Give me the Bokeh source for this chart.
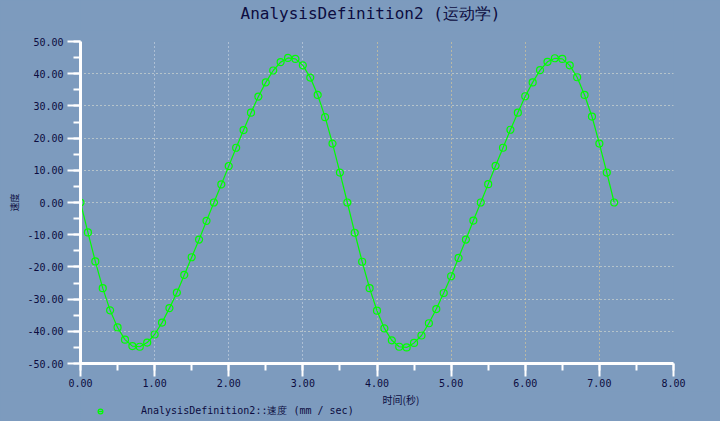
from bokeh.plotting import figure
from bokeh.layouts import column
from bokeh.models import (Range1d, Legend, LegendItem, Grid, FixedTicker, Label,
                          SingleIntervalTicker, NumeralTickFormatter)
from bokeh.embed import file_html
from bokeh.resources import INLINE

# ---- data ----
time_s = [0.0, 0.1, 0.2, 0.3, 0.4, 0.5, 0.6, 0.7, 0.8, 0.9,
          1.0, 1.1, 1.2, 1.3, 1.4, 1.5, 1.6, 1.7, 1.8, 1.9,
          2.0, 2.1, 2.2, 2.3, 2.4, 2.5, 2.6, 2.7, 2.8, 2.9,
          3.0, 3.1, 3.2, 3.3, 3.4, 3.5, 3.6, 3.7, 3.8, 3.9,
          4.0, 4.1, 4.2, 4.3, 4.4, 4.5, 4.6, 4.7, 4.8, 4.9,
          5.0, 5.1, 5.2, 5.3, 5.4, 5.5, 5.6, 5.7, 5.8, 5.9,
          6.0, 6.1, 6.2, 6.3, 6.4, 6.5, 6.6, 6.7, 6.8, 6.9,
          7.0, 7.1, 7.2]
velocity = [0.0, -9.3, -18.3, -26.6, -33.5, -38.8, -42.6, -44.6, -44.8, -43.5,
            -41.0, -37.3, -32.8, -28.0, -22.5, -17.0, -11.5, -5.7, 0.0, 5.6,
            11.3, 17.0, 22.5, 27.9, 32.9, 37.3, 41.0, 43.6, 44.9, 44.6,
            42.6, 38.8, 33.4, 26.5, 18.3, 9.3, 0.0, -9.4, -18.4, -26.6,
            -33.6, -39.1, -42.8, -44.8, -45.0, -43.6, -41.3, -37.5, -33.1, -28.1,
            -22.9, -17.2, -11.5, -5.6, 0.0, 5.7, 11.4, 17.0, 22.6, 27.9,
            33.0, 37.3, 41.1, 43.7, 44.8, 44.6, 42.6, 38.9, 33.4, 26.7,
            18.3, 9.3, 0.0]

title_text = "AnalysisDefinition2 (运动学)"
x_label = "时间(秒)"
y_label = "速度"
series_label = "AnalysisDefinition2::速度 (mm / sec)"
x_grid_light = [1, 2, 3]
x_grid_warm = [4, 5, 6, 7, 8]
y_grid = [-40, -30, -20, -10, 0, 10, 20, 30, 40, 50]

BG = "#7d9bbe"
INK = "#0c0c40"
GREEN = "#00ff00"
MONO = "DejaVu Sans Mono"
CJK = "Noto Sans CJK SC"

LEFT, RIGHT = 80, 47


def strip(h):
    # frame spans page x 80..673, so data x equals page x
    f = figure(width=720, height=h, x_range=Range1d(LEFT, 720 - RIGHT), y_range=Range1d(0, h),
               x_axis_type=None, y_axis_type=None,
               min_border_left=LEFT, min_border_right=RIGHT,
               min_border_top=0, min_border_bottom=0,
               output_backend="svg", toolbar_location=None,
               background_fill_color=BG, border_fill_color=BG,
               outline_line_color=None)
    for r in list(f.center):
        if isinstance(r, Grid):
            r.visible = False
    f.styles = {"background-color": BG}
    return f


# ---- top strip: title ----
p_top = strip(30)
p_top.add_layout(Label(x=240, y=8, text=title_text, text_font=MONO,
                       text_font_size="16px", text_color=INK, text_baseline="bottom"))

# ---- main chart ----
p = figure(width=720, height=361, x_range=Range1d(0, 8), y_range=Range1d(-50, 50),
           min_border_left=LEFT, min_border_right=RIGHT, min_border_top=11, min_border_bottom=28,
           output_backend="svg", toolbar_location=None,
           background_fill_color=BG, border_fill_color=BG, outline_line_color=None)
p.styles = {"background-color": BG}

p.xgrid.visible = False
p.ygrid.visible = False

p.add_layout(Grid(dimension=1, ticker=FixedTicker(ticks=y_grid),
                  grid_line_color="#eeead6", grid_line_dash="1 3", grid_line_width=1))
p.add_layout(Grid(dimension=0, ticker=FixedTicker(ticks=x_grid_light),
                  grid_line_color="#dfe3ea", grid_line_dash="1 3", grid_line_width=1))
p.add_layout(Grid(dimension=0, ticker=FixedTicker(ticks=x_grid_warm),
                  grid_line_color="#f2d48e", grid_line_dash="1 3", grid_line_width=1))

for ax in (p.xaxis[0], p.yaxis[0]):
    ax.axis_line_color = "white"
    ax.axis_line_width = 3
    ax.major_tick_line_color = "white"
    ax.major_tick_line_width = 2
    ax.major_tick_out = 13
    ax.major_tick_in = 0
    ax.minor_tick_line_color = "white"
    ax.minor_tick_line_width = 2
    ax.minor_tick_out = 7
    ax.minor_tick_in = 0
    ax.major_label_text_font = MONO
    ax.major_label_text_font_size = "10px"
    ax.major_label_text_color = INK
    ax.formatter = NumeralTickFormatter(format="0.00")

p.xaxis[0].ticker = SingleIntervalTicker(interval=1, num_minor_ticks=2)
p.yaxis[0].ticker = SingleIntervalTicker(interval=10, num_minor_ticks=2)
p.xaxis[0].major_label_text_align = "left"
p.xaxis[0].major_label_standoff = 2
p.yaxis[0].major_label_standoff = 4

p.yaxis[0].axis_label = y_label
p.yaxis[0].axis_label_text_font = CJK
p.yaxis[0].axis_label_text_font_size = "9px"
p.yaxis[0].axis_label_text_font_style = "normal"
p.yaxis[0].axis_label_text_color = INK
p.yaxis[0].axis_label_standoff = 3

p.line(time_s, velocity, line_color=GREEN, line_width=1.2)
p.scatter(time_s, velocity, marker="circle", size=7, fill_color=None,
          line_color=GREEN, line_width=1.2)

# ---- bottom strip: x label and legend ----
p_bot = strip(30)
p_bot.add_layout(Label(x=382, y=29.5, text=x_label, text_font=CJK,
                       text_font_size="10px", text_color=INK, text_baseline="top"))
# legend swatches: renderers kept outside the visible range
leg_dash = p_bot.scatter([0], [-50], marker="dash", size=40, line_color=GREEN, line_width=1.2)
leg_pts = p_bot.scatter([0], [-50], marker="circle", size=7, fill_color=None,
                        line_color=GREEN, line_width=1.2)
legend = Legend(items=[LegendItem(label=series_label, renderers=[leg_dash, leg_pts])],
                location=(0, 3), glyph_width=40, glyph_height=12,
                label_standoff=21, padding=0, margin=0, border_line_color=None,
                background_fill_alpha=0, label_text_font=MONO,
                label_text_font_size="10px", label_text_color=INK)
p_bot.add_layout(legend)

layout = column(p_top, p, p_bot, spacing=0,
                styles={"background-color": BG, "outline": "2px solid #1e2030",
                        "outline-offset": "-2px"})
open("out.html", "w").write(file_html(layout, INLINE))
